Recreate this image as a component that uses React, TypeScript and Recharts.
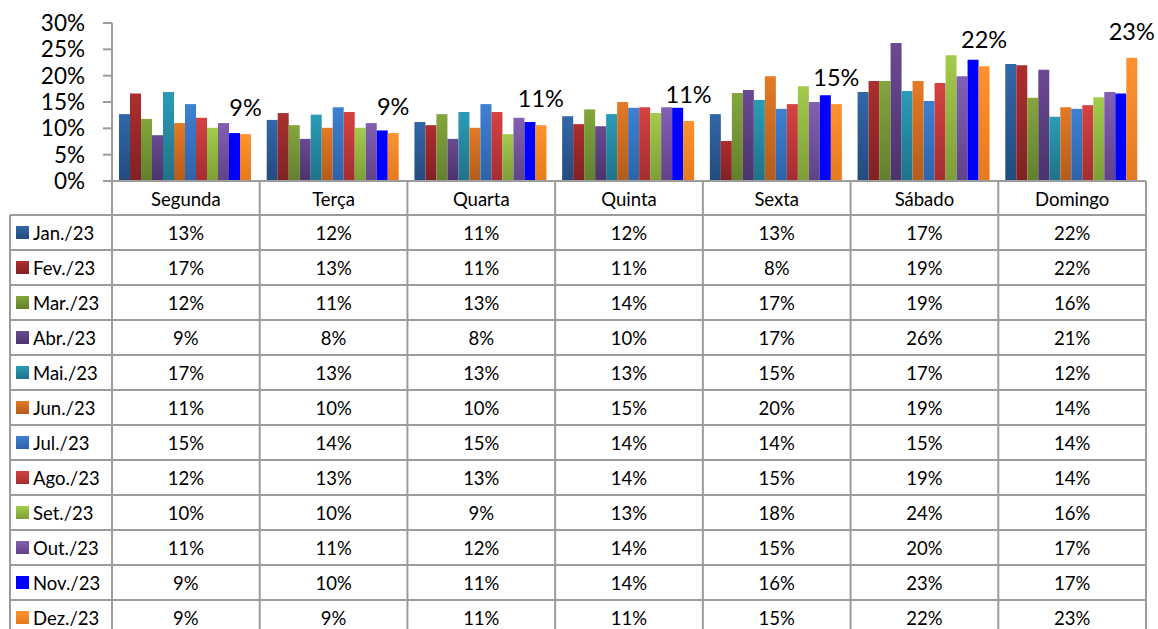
import { Bar, BarChart, LabelList, XAxis, YAxis } from 'recharts';

const DAYS = ['Segunda', 'Terça', 'Quarta', 'Quinta', 'Sexta', 'Sábado', 'Domingo'];

const JAN = [12.7, 11.6, 11.2, 12.3, 12.7, 16.9, 22.2];
const FEV = [16.6, 12.9, 10.6, 10.8, 7.6, 19.0, 22.0];
const MAR = [11.8, 10.6, 12.7, 13.6, 16.7, 19.0, 15.8];
const ABR = [8.7, 8.0, 8.0, 10.4, 17.3, 26.2, 21.1];
const MAI = [16.9, 12.6, 13.1, 12.7, 15.4, 17.1, 12.2];
const JUN = [11.0, 10.1, 10.1, 15.0, 19.9, 19.0, 14.0];
const JUL = [14.6, 14.0, 14.6, 13.9, 13.7, 15.2, 13.7];
const AGO = [12.0, 13.1, 13.1, 14.0, 14.6, 18.6, 14.4];
const SET = [10.1, 10.1, 8.9, 12.9, 18.0, 23.9, 15.9];
const OUT = [11.0, 11.0, 12.0, 14.0, 15.0, 19.9, 16.9];
const NOV = [9.1, 9.6, 11.2, 13.9, 16.3, 23.0, 16.6];
const DEZ = [8.9, 9.1, 10.6, 11.4, 14.6, 21.8, 23.4];

const Y_TICKS = [0, 5, 10, 15, 20, 25, 30];

const SERIES = [
  { key: 'jan', name: 'Jan./23', values: JAN, top: '#3267a8', bottom: '#234b7e' },
  { key: 'fev', name: 'Fev./23', values: FEV, top: '#ad2e2e', bottom: '#7f2224' },
  { key: 'mar', name: 'Mar./23', values: MAR, top: '#83a63d', bottom: '#62802d' },
  { key: 'abr', name: 'Abr./23', values: ABR, top: '#6a4a92', bottom: '#4b336b' },
  { key: 'mai', name: 'Mai./23', values: MAI, top: '#2b9cb6', bottom: '#1f728a' },
  { key: 'jun', name: 'Jun./23', values: JUN, top: '#e47a25', bottom: '#b35c1c' },
  { key: 'jul', name: 'Jul./23', values: JUL, top: '#3e80d2', bottom: '#2e63a8' },
  { key: 'ago', name: 'Ago./23', values: AGO, top: '#d64242', bottom: '#a32d30' },
  { key: 'set', name: 'Set./23', values: SET, top: '#a3cb4c', bottom: '#7d9e37' },
  { key: 'out', name: 'Out./23', values: OUT, top: '#8360b2', bottom: '#5f4387' },
  { key: 'nov', name: 'Nov./23', values: NOV, top: '#0000ff', bottom: '#0000ff' },
  { key: 'dez', name: 'Dez./23', values: DEZ, top: '#ff9330', bottom: '#e57a1e' },
];

const data = DAYS.map((day, i) => {
  const row: Record<string, string | number> = { day };
  SERIES.forEach((s) => (row[s.key] = s.values[i]));
  return row;
});

const W = 1158;
const H = 629;
const PLOT_LEFT = 112;
const PLOT_RIGHT = 1146;
const PLOT_TOP = 23;
const AXIS_Y = 181;
const ROW_TOP = 215;
const ROW_H = 35;
const TABLE_LEFT = 10;
const GRID = '#9c9c9c';
const FONT = 'Lato, "Open Sans", sans-serif';
const TABLE_FS = 18.5;

const pct = (v: number) => `${Math.round(v)}%`;

function LegendColumn() {
  return (
    <g>
      <line x1={TABLE_LEFT} y1={ROW_TOP} x2={TABLE_LEFT} y2={H} stroke={GRID} strokeWidth={2} />
      {SERIES.map((s, i) => {
        const top = ROW_TOP + i * ROW_H;
        return (
          <g key={s.key}>
            <line x1={TABLE_LEFT} y1={top} x2={PLOT_LEFT} y2={top} stroke={GRID} strokeWidth={2} />
            <rect x={16} y={top + ROW_H / 2 - 6.5} width={13} height={13} fill={`url(#grad-${s.key})`} />
            <text x={33} y={top + ROW_H / 2} dominantBaseline="central" fontSize={TABLE_FS} fill="#000">
              {s.name}
            </text>
          </g>
        );
      })}
    </g>
  );
}

function TableTick(props: any) {
  const { x, payload } = props;
  const idx: number = payload.index;
  const cw = (PLOT_RIGHT - PLOT_LEFT) / DAYS.length;
  const left = x - cw / 2;
  const right = x + cw / 2;
  return (
    <g>
      {idx === 0 && <LegendColumn />}
      {idx === 0 && <line x1={left} y1={AXIS_Y} x2={left} y2={H} stroke={GRID} strokeWidth={2} />}
      <line x1={right} y1={AXIS_Y} x2={right} y2={H} stroke={GRID} strokeWidth={2} />
      <text x={x} y={(AXIS_Y + ROW_TOP) / 2 + 1} textAnchor="middle" dominantBaseline="central" fontSize={TABLE_FS} fill="#000">
        {payload.value}
      </text>
      {SERIES.map((s, i) => {
        const top = ROW_TOP + i * ROW_H;
        return (
          <g key={s.key}>
            <line x1={left} y1={top} x2={right} y2={top} stroke={GRID} strokeWidth={2} />
            <text x={x} y={top + ROW_H / 2} textAnchor="middle" dominantBaseline="central" fontSize={TABLE_FS} fill="#000">
              {pct(s.values[idx])}
            </text>
          </g>
        );
      })}
    </g>
  );
}

function TopLabel(props: any) {
  const { x, y, width, value } = props;
  return (
    <text x={x + width / 2} y={y - 27} textAnchor="middle" dominantBaseline="central" fontSize={23.5} fill="#000">
      {pct(value)}
    </text>
  );
}

export default function App() {
  return (
    <div style={{ position: 'absolute', left: 0, top: 0, width: W, height: H, background: '#fff', fontFamily: FONT }}>
      <BarChart
        width={W}
        height={H}
        data={data}
        margin={{ top: PLOT_TOP, right: W - PLOT_RIGHT, left: 0, bottom: 0 }}
        barCategoryGap={7}
        barGap={0}
        style={{ fontFamily: FONT }}
      >
        <defs>
          {SERIES.map((s) => (
            <linearGradient key={s.key} id={`grad-${s.key}`} x1="0" y1="0" x2="0" y2="1">
              <stop offset="0%" stopColor={s.top} />
              <stop offset="100%" stopColor={s.bottom} />
            </linearGradient>
          ))}
        </defs>
        <YAxis
          type="number"
          domain={[0, 30]}
          ticks={Y_TICKS}
          interval={0}
          width={PLOT_LEFT}
          tickFormatter={(v) => `${v}%`}
          tick={{ fontSize: 22.5, fill: '#000' }}
          tickSize={9}
          tickMargin={18}
          tickLine={{ stroke: GRID, strokeWidth: 2 }}
          axisLine={{ stroke: GRID, strokeWidth: 2 }}
        />
        <XAxis
          dataKey="day"
          height={H - AXIS_Y}
          interval={0}
          tickLine={false}
          axisLine={{ stroke: GRID, strokeWidth: 2 }}
          tick={<TableTick />}
        />
        {SERIES.map((s) => (
          <Bar key={s.key} dataKey={s.key} name={s.name} fill={`url(#grad-${s.key})`} isAnimationActive={false}>
            {s.key === 'dez' && <LabelList dataKey="dez" content={<TopLabel />} />}
          </Bar>
        ))}
      </BarChart>
    </div>
  );
}
